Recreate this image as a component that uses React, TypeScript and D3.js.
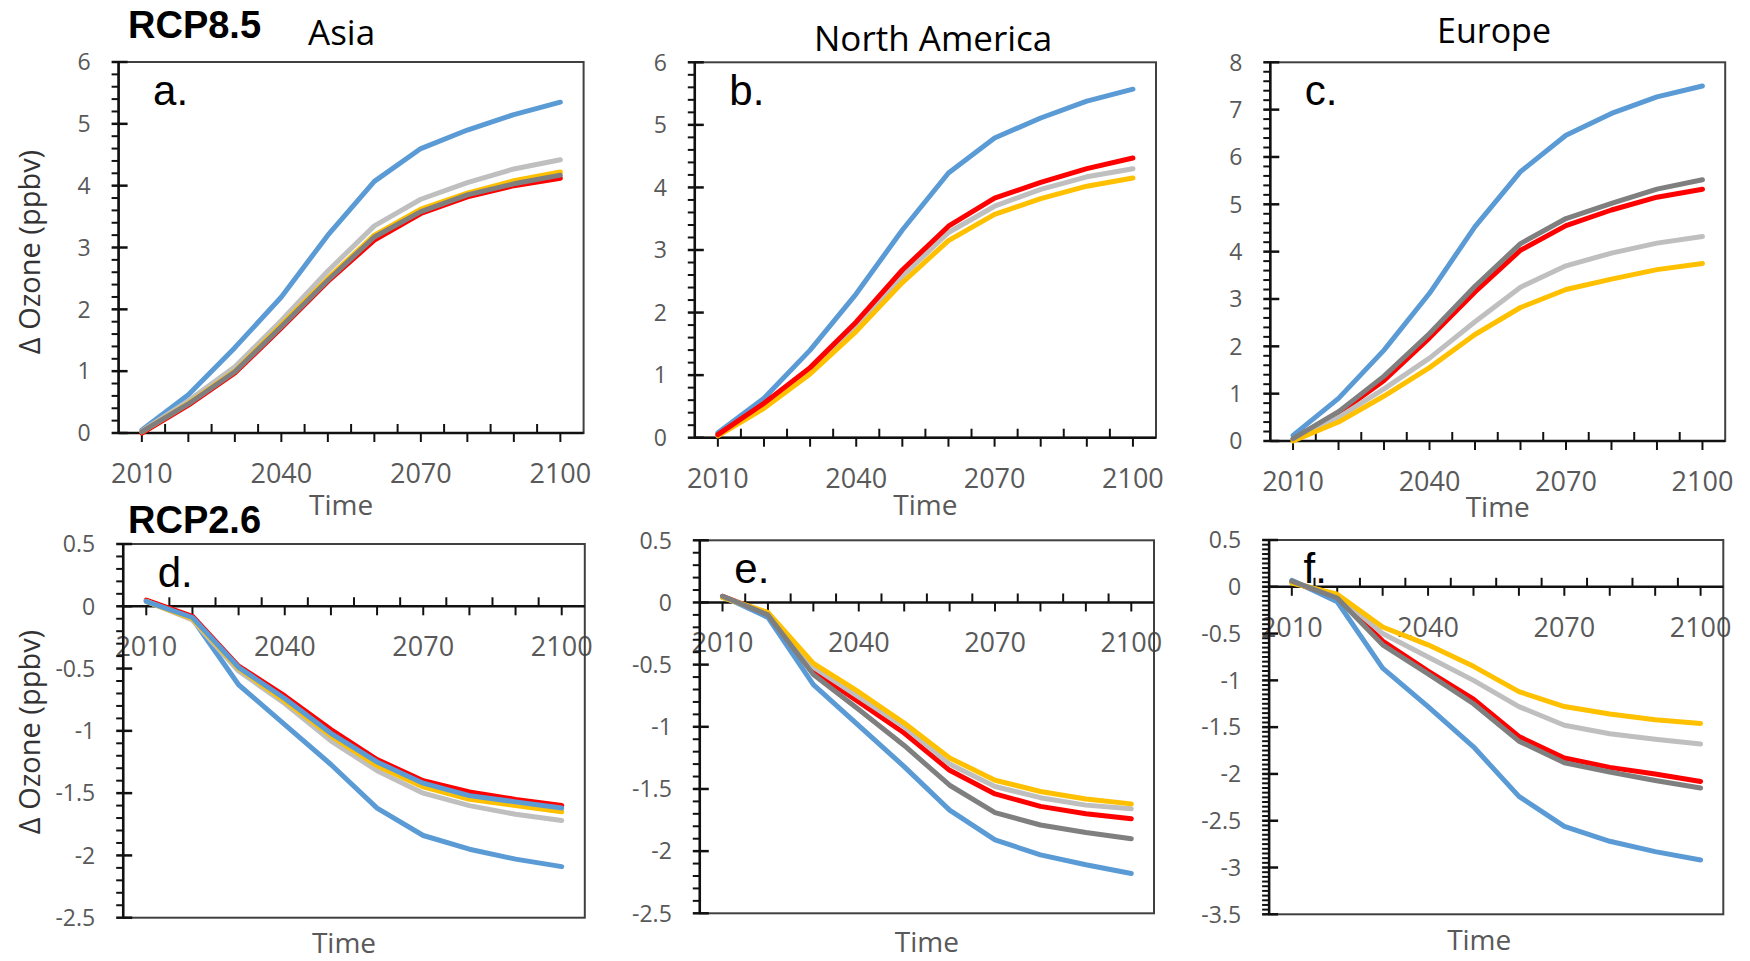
import * as d3 from "d3";

// time axis (categories) and the labelled years
const years = [2010, 2020, 2030, 2040, 2050, 2060, 2070, 2080, 2090, 2100];
const yearLabels = [2010, 2040, 2070, 2100];

// RCP8.5 Asia
const asia85Blue = [0.05, 0.62, 1.38, 2.2, 3.2, 4.07, 4.6, 4.9, 5.15, 5.35];
const asia85Red = [0.0, 0.45, 0.97, 1.7, 2.45, 3.12, 3.55, 3.82, 4.0, 4.12];
const asia85Light = [0.03, 0.52, 1.07, 1.82, 2.62, 3.35, 3.78, 4.05, 4.27, 4.42];
const asia85Gold = [0.02, 0.48, 1.0, 1.75, 2.5, 3.2, 3.62, 3.88, 4.08, 4.22];
const asia85Dark = [0.02, 0.47, 0.99, 1.72, 2.47, 3.17, 3.58, 3.85, 4.03, 4.17];

// RCP8.5 North America
const nam85Blue = [0.08, 0.63, 1.4, 2.3, 3.32, 4.23, 4.79, 5.11, 5.38, 5.57];
const nam85Light = [0.04, 0.52, 1.08, 1.78, 2.58, 3.28, 3.7, 3.97, 4.17, 4.3];
const nam85Gold = [0.03, 0.47, 1.02, 1.7, 2.48, 3.15, 3.57, 3.82, 4.02, 4.15];
const nam85Red = [0.05, 0.55, 1.12, 1.85, 2.68, 3.38, 3.83, 4.08, 4.3, 4.47];

// RCP8.5 Europe
const eur85Blue = [0.12, 0.9, 1.92, 3.12, 4.53, 5.69, 6.46, 6.92, 7.27, 7.5];
const eur85Red = [0.04, 0.58, 1.28, 2.18, 3.15, 4.03, 4.55, 4.88, 5.15, 5.32];
const eur85Light = [0.03, 0.5, 1.1, 1.75, 2.52, 3.25, 3.7, 3.97, 4.18, 4.32];
const eur85Gold = [0.0, 0.4, 0.95, 1.55, 2.25, 2.82, 3.2, 3.42, 3.62, 3.75];
const eur85Dark = [0.05, 0.62, 1.37, 2.27, 3.27, 4.17, 4.7, 5.02, 5.32, 5.52];

// RCP2.6 Asia (two blue lines in the original)
const asia26Blue = [0.04, -0.1, -0.63, -0.95, -1.27, -1.62, -1.84, -1.95, -2.03, -2.09];
const asia26Red = [0.05, -0.08, -0.48, -0.72, -0.99, -1.23, -1.4, -1.49, -1.55, -1.6];
const asia26Light = [0.04, -0.11, -0.52, -0.78, -1.08, -1.32, -1.5, -1.6, -1.67, -1.72];
const asia26Gold = [0.04, -0.1, -0.5, -0.76, -1.04, -1.28, -1.45, -1.55, -1.6, -1.65];
const asia26Blue2 = [0.04, -0.09, -0.49, -0.74, -1.02, -1.25, -1.42, -1.52, -1.57, -1.62];

// RCP2.6 North America
const nam26Blue = [0.05, -0.12, -0.66, -0.99, -1.32, -1.67, -1.91, -2.03, -2.11, -2.18];
const nam26Red = [0.05, -0.09, -0.55, -0.8, -1.05, -1.35, -1.54, -1.64, -1.7, -1.74];
const nam26Light = [0.04, -0.09, -0.52, -0.76, -1.0, -1.3, -1.48, -1.57, -1.63, -1.66];
const nam26Gold = [0.04, -0.08, -0.49, -0.72, -0.97, -1.25, -1.43, -1.52, -1.58, -1.62];
const nam26Dark = [0.05, -0.1, -0.58, -0.86, -1.15, -1.47, -1.69, -1.79, -1.85, -1.9];

// RCP2.6 Europe
const eur26Blue = [0.07, -0.16, -0.87, -1.28, -1.71, -2.24, -2.56, -2.72, -2.83, -2.92];
const eur26Red = [0.05, -0.1, -0.58, -0.9, -1.2, -1.6, -1.83, -1.93, -2.0, -2.08];
const eur26Light = [0.05, -0.09, -0.5, -0.75, -1.0, -1.28, -1.48, -1.57, -1.63, -1.68];
const eur26Gold = [0.04, -0.08, -0.43, -0.62, -0.85, -1.12, -1.28, -1.36, -1.42, -1.46];
const eur26Dark = [0.06, -0.12, -0.62, -0.93, -1.25, -1.65, -1.88, -1.98, -2.07, -2.15];

const BLUE = "#5B9BD5";
const RED = "#FF0000";
const LGREY = "#BFBFBF";
const DGREY = "#7F7F7F";
const GOLD = "#FFC000";

const TICK_COLOR = "#595959";
const SANS = "'Open Sans', sans-serif";
const ARIAL = "'Liberation Sans', Arial, sans-serif";

const panels = [
  {
    letter: "a.", box: [118.6, 583.6, 62, 433], y: [0, 6], major: 1, minor: 0.2,
    timeDx: -10, timeY: 515,
    series: [[asia85Blue, BLUE], [asia85Red, RED], [asia85Light, LGREY], [asia85Gold, GOLD], [asia85Dark, DGREY]],
  },
  {
    letter: "b.", box: [694.8, 1156, 62.3, 437.7], y: [0, 6], major: 1, minor: 0.2,
    timeDx: 0, timeY: 515,
    series: [[nam85Blue, BLUE], [nam85Light, LGREY], [nam85Gold, GOLD], [nam85Red, RED]],
  },
  {
    letter: "c.", box: [1270.3, 1725.2, 62.3, 441], y: [0, 8], major: 1, minor: 0.2,
    timeDx: 0, timeY: 517,
    series: [[eur85Blue, BLUE], [eur85Red, RED], [eur85Light, LGREY], [eur85Gold, GOLD], [eur85Dark, DGREY]],
  },
  {
    letter: "d.", box: [123.2, 584.8, 544, 917.7], y: [-2.5, 0.5], major: 0.5, minor: 0.1,
    timeDx: -10, timeY: 953,
    series: [[asia26Blue, BLUE], [asia26Red, RED], [asia26Light, LGREY], [asia26Gold, GOLD], [asia26Blue2, BLUE]],
  },
  {
    letter: "e.", box: [699.8, 1154, 540.3, 913.3], y: [-2.5, 0.5], major: 0.5, minor: 0.1,
    timeDx: 0, timeY: 952,
    series: [[nam26Blue, BLUE], [nam26Red, RED], [nam26Light, LGREY], [nam26Gold, GOLD], [nam26Dark, DGREY]],
  },
  {
    letter: "f.", box: [1269.1, 1723.3, 540, 914.3], y: [-3.5, 0.5], major: 0.5, minor: 0.05,
    timeDx: -17, timeY: 950,
    series: [[eur26Blue, BLUE], [eur26Red, RED], [eur26Light, LGREY], [eur26Gold, GOLD], [eur26Dark, DGREY]],
  },
];

const steps = (lo: number, hi: number, step: number) =>
  d3.range(Math.round((hi - lo) / step) + 1).map((i) => +(lo + i * step).toFixed(4));

function Panel({ p }: { p: any }) {
  const [L, R, T, B] = p.box;
  const x = d3.scaleLinear().domain([2005, 2105]).range([L, R]);
  const y = d3.scaleLinear().domain(p.y).range([B, T]);
  const y0 = y(0);
  const line = d3
    .line<number>()
    .x((_, i) => x(years[i]))
    .y((d) => y(d));

  const majors = steps(p.y[0], p.y[1], p.major);
  const minors = steps(p.y[0], p.y[1], p.minor).filter(
    (v) => !majors.some((m) => Math.abs(m - v) < 1e-6)
  );
  const bounds = years.slice(0, -1).map((yr) => yr + 5);
  const midX = (x(2010) + x(2100)) / 2;

  return (
    <g>
      {/* tick labels */}
      {majors.map((v) => (
        <text key={"yl" + v} x={L - 28} y={y(v)} dy="0.36em" textAnchor="end"
          fontFamily={SANS} fontSize={23} fill={TICK_COLOR}>
          {String(v)}
        </text>
      ))}
      {yearLabels.map((yr) => (
        <text key={"xl" + yr} x={x(yr)} y={y0 + 50} textAnchor="middle"
          fontFamily={SANS} fontSize={27} fill={TICK_COLOR}>
          {yr}
        </text>
      ))}
      <text x={midX + p.timeDx} y={p.timeY} textAnchor="middle" fontFamily={SANS}
        fontSize={28} fill={TICK_COLOR}>
        Time
      </text>

      {/* plot frame */}
      <rect x={L} y={T} width={R - L} height={B - T} fill="none" stroke="#404040" strokeWidth={2} />
      <line x1={L} x2={L} y1={T} y2={B} stroke="#111" strokeWidth={2.5} />
      <line x1={L} x2={R} y1={y0} y2={y0} stroke="#111" strokeWidth={2.5} />
      {majors.map((v) => (
        <line key={"ym" + v} x1={L - 7} x2={L + 9} y1={y(v)} y2={y(v)} stroke="#111" strokeWidth={2.5} />
      ))}
      {minors.map((v) => (
        <line key={"yn" + v} x1={L - 7} x2={L} y1={y(v)} y2={y(v)} stroke="#111" strokeWidth={2} />
      ))}
      {years.map((yr) => (
        <line key={"xt" + yr} x1={x(yr)} x2={x(yr)} y1={y0} y2={y0 + 9} stroke="#111" strokeWidth={2} />
      ))}
      {bounds.map((yr) => (
        <line key={"xb" + yr} x1={x(yr)} x2={x(yr)} y1={y0 - 9} y2={y0} stroke="#111" strokeWidth={2} />
      ))}

      {/* series */}
      {p.series.map(([vals, color]: [number[], string], i: number) => (
        <path key={"s" + i} d={line(vals) || ""} fill="none" stroke={color} strokeWidth={5}
          strokeLinejoin="round" strokeLinecap="round" />
      ))}

      <text x={L + 34.5} y={T + 43} fontFamily={ARIAL} fontSize={42} fill="#000">
        {p.letter}
      </text>
    </g>
  );
}

export default function App() {
  return (
    <svg width={1750} height={961} style={{ position: "absolute", left: 0, top: 0, background: "#fff" }}>
      <rect width={1750} height={961} fill="#fff" />
      <text x={128} y={38} fontFamily={ARIAL} fontWeight="bold" fontSize={38} fill="#000">RCP8.5</text>
      <text x={128} y={533} fontFamily={ARIAL} fontWeight="bold" fontSize={38} fill="#000">RCP2.6</text>
      <text x={308} y={45} fontFamily={SANS} fontSize={35} fill="#000">Asia</text>
      <text x={814} y={51} fontFamily={SANS} fontSize={35} fill="#000">North America</text>
      <text x={1437} y={43} fontFamily={SANS} fontSize={34} fill="#000">Europe</text>
      {[252, 732].map((cy) => (
        <text key={cy} transform={`translate(30,${cy}) rotate(-90)`} textAnchor="middle" dy="0.36em"
          fontFamily={SANS} fontSize={29} fill="#333">
          Δ Ozone (ppbv)
        </text>
      ))}
      {panels.map((p) => (
        <Panel key={p.letter} p={p} />
      ))}
    </svg>
  );
}
